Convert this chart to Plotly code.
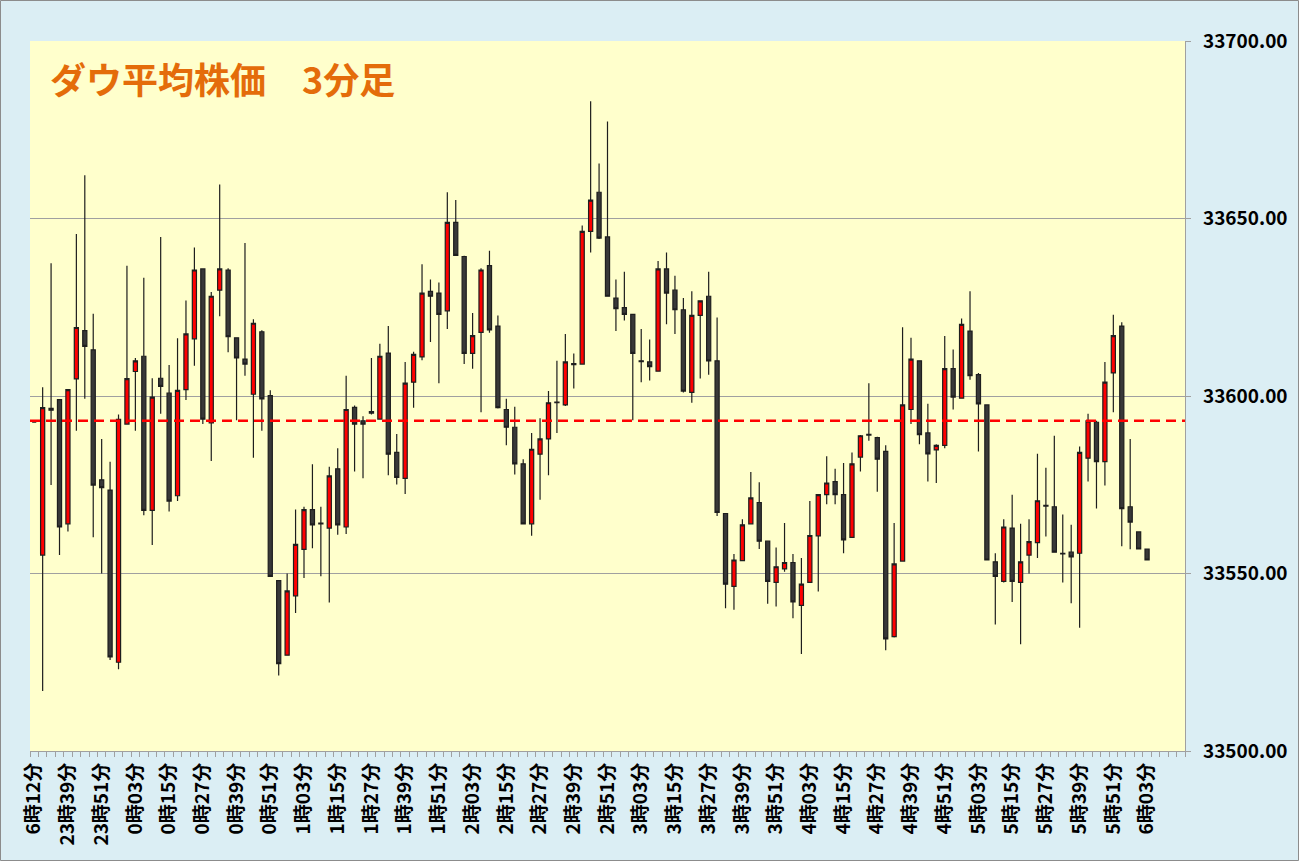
import plotly.graph_objects as go

# ---- data -------------------------------------------------------------
times = (
    ["6時12分"]
    + ["23時30分", "23時33分", "23時36分", "23時39分", "23時42分", "23時45分", "23時48分", "23時51分", "23時54分", "23時57分"]
    + ["0時00分", "0時03分", "0時06分", "0時09分", "0時12分", "0時15分", "0時18分", "0時21分", "0時24分", "0時27分",
       "0時30分", "0時33分", "0時36分", "0時39分", "0時42分", "0時45分", "0時48分", "0時51分", "0時54分", "0時57分"]
    + ["1時00分", "1時03分", "1時06分", "1時09分", "1時12分", "1時15分", "1時18分", "1時21分", "1時24分", "1時27分",
       "1時30分", "1時33分", "1時36分", "1時39分", "1時42分", "1時45分", "1時48分", "1時51分", "1時54分", "1時57分"]
    + ["2時00分", "2時03分", "2時06分", "2時09分", "2時12分", "2時15分", "2時18分", "2時21分", "2時24分", "2時27分",
       "2時30分", "2時33分", "2時36分", "2時39分", "2時42分", "2時45分", "2時48分", "2時51分", "2時54分", "2時57分"]
    + ["3時00分", "3時03分", "3時06分", "3時09分", "3時12分", "3時15分", "3時18分", "3時21分", "3時24分", "3時27分",
       "3時30分", "3時33分", "3時36分", "3時39分", "3時42分", "3時45分", "3時48分", "3時51分", "3時54分", "3時57分"]
    + ["4時00分", "4時03分", "4時06分", "4時09分", "4時12分", "4時15分", "4時18分", "4時21分", "4時24分", "4時27分",
       "4時30分", "4時33分", "4時36分", "4時39分", "4時42分", "4時45分", "4時48分", "4時51分", "4時54分", "4時57分"]
    + ["5時00分", "5時03分", "5時06分", "5時09分", "5時12分", "5時15分", "5時18分", "5時21分", "5時24分", "5時27分",
       "5時30分", "5時33分", "5時36分", "5時39分", "5時42分", "5時45分", "5時48分", "5時51分", "5時54分", "5時57分"]
    + ["6時00分", "6時03分"]
)

open_ = [
    33592.6, 33555.2, 33596.5, 33599.0, 33564.0, 33604.8, 33618.4, 33613.0, 33576.4, 33573.5,
    33525.0, 33592.1, 33606.9, 33611.2, 33567.8, 33605.0, 33600.8, 33571.9, 33601.8, 33616.1,
    33635.8, 33592.4, 33629.8, 33635.5, 33616.4, 33610.4, 33600.5, 33618.1, 33600.1, 33548.0,
    33527.0, 33543.7, 33556.8, 33568.0, 33564.2, 33562.8, 33579.5, 33563.1, 33596.8, 33593.0,
    33595.6, 33593.5, 33612.1, 33584.1, 33576.8, 33603.9, 33611.0, 33629.5, 33629.0, 33624.0,
    33648.9, 33639.3, 33612.0, 33617.9, 33636.7, 33619.7, 33596.2, 33591.2, 33580.9, 33564.0,
    33583.6, 33587.9, 33598.3, 33597.5, 33609.1, 33609.0, 33646.4, 33657.4, 33644.8, 33627.6,
    33624.9, 33623.0, 33609.9, 33609.6, 33607.0, 33635.8, 33629.8, 33624.3, 33601.0, 33622.7,
    33628.1, 33609.9, 33566.9, 33546.4, 33553.6, 33564.0, 33570.0, 33559.1, 33547.5, 33551.3,
    33553.1, 33541.0, 33547.5, 33560.6, 33572.2, 33575.9, 33572.2, 33560.2, 33582.8, 33589.2,
    33588.3, 33584.4, 33532.2, 33553.5, 33596.2, 33609.9, 33589.6, 33584.8, 33586.1, 33607.7,
    33599.4, 33618.3, 33606.0, 33597.5, 33553.3, 33547.8, 33562.8, 33547.5, 33555.2, 33558.7,
    33569.2, 33568.8, 33555.7, 33556.0, 33555.7, 33582.5, 33592.6, 33581.5, 33606.5, 33619.7,
    33568.8, 33561.7, 33556.9,
]
high = [
    33592.6, 33602.5, 33637.4, 33599.0, 33602.0, 33645.6, 33662.2, 33623.2, 33587.9, 33581.5,
    33594.8, 33636.7, 33610.7, 33633.3, 33605.0, 33644.8, 33608.7, 33616.3, 33626.9, 33641.8,
    33636.0, 33629.3, 33659.6, 33636.0, 33616.5, 33643.1, 33621.6, 33618.5, 33601.6, 33548.2,
    33550.0, 33568.0, 33568.8, 33580.8, 33568.8, 33580.1, 33585.3, 33605.7, 33597.3, 33594.3,
    33610.7, 33614.7, 33619.7, 33589.3, 33609.6, 33612.5, 33637.1, 33632.8, 33632.0, 33657.4,
    33655.2, 33639.5, 33623.4, 33636.0, 33640.9, 33622.7, 33599.2, 33597.0, 33582.2, 33589.6,
    33593.7, 33601.4, 33609.9, 33617.5, 33612.0, 33648.0, 33683.0, 33665.5, 33677.3, 33632.8,
    33635.0, 33623.0, 33618.9, 33615.9, 33638.0, 33640.4, 33633.9, 33627.6, 33629.5, 33627.0,
    33635.0, 33622.1, 33567.0, 33555.5, 33565.3, 33578.6, 33575.7, 33559.2, 33557.3, 33564.2,
    33555.5, 33554.4, 33570.4, 33572.3, 33583.0, 33579.5, 33581.1, 33584.1, 33589.0, 33603.6,
    33588.5, 33586.1, 33564.2, 33619.4, 33616.4, 33610.0, 33597.8, 33586.4, 33616.9, 33613.1,
    33621.8, 33629.5, 33606.5, 33597.6, 33555.7, 33565.3, 33572.2, 33564.0, 33565.3, 33583.7,
    33579.8, 33588.8, 33566.6, 33563.7, 33585.8, 33595.0, 33593.0, 33609.6, 33622.9, 33620.8,
    33587.9, 33561.7, 33556.9,
]
low = [
    33592.6, 33516.9, 33574.9, 33555.2, 33561.8, 33590.2, 33599.2, 33560.2, 33550.0, 33525.6,
    33523.0, 33592.0, 33590.2, 33566.4, 33558.0, 33595.0, 33567.5, 33570.4, 33598.9, 33608.5,
    33592.1, 33581.7, 33622.5, 33612.3, 33593.2, 33605.7, 33582.6, 33590.2, 33549.0, 33521.3,
    33526.8, 33538.9, 33548.7, 33557.1, 33549.2, 33541.8, 33560.9, 33561.1, 33578.7, 33576.8,
    33594.8, 33593.3, 33577.7, 33575.1, 33572.4, 33596.7, 33610.1, 33615.2, 33603.6, 33618.9,
    33639.5, 33609.0, 33607.7, 33595.4, 33617.8, 33596.5, 33586.1, 33577.9, 33564.0, 33560.6,
    33570.8, 33577.7, 33589.6, 33597.2, 33602.1, 33609.0, 33640.4, 33644.2, 33628.0, 33618.3,
    33621.3, 33593.2, 33603.9, 33604.4, 33607.0, 33620.2, 33617.5, 33601.0, 33598.1, 33604.9,
    33606.0, 33566.2, 33540.2, 33539.8, 33553.5, 33564.0, 33556.9, 33541.5, 33540.7, 33550.5,
    33537.4, 33527.3, 33547.5, 33544.9, 33569.5, 33569.5, 33555.7, 33560.0, 33578.7, 33587.4,
    33573.0, 33528.4, 33532.0, 33553.5, 33592.1, 33586.4, 33575.9, 33575.5, 33585.3, 33596.2,
    33599.4, 33604.6, 33584.4, 33553.7, 33535.6, 33547.5, 33542.0, 33530.1, 33550.0, 33554.4,
    33560.4, 33556.0, 33547.5, 33541.6, 33534.7, 33575.9, 33568.3, 33574.8, 33595.4, 33557.7,
    33556.8, 33556.9, 33553.8,
]
close = [
    33592.6, 33596.7, 33596.0, 33563.1, 33601.8, 33619.3, 33614.0, 33574.9, 33574.2, 33526.5,
    33593.4, 33604.9, 33609.9, 33567.8, 33599.7, 33602.7, 33570.4, 33601.6, 33617.5, 33635.5,
    33593.5, 33628.1, 33635.8, 33616.7, 33610.7, 33609.0, 33620.5, 33599.2, 33549.2, 33524.6,
    33545.1, 33558.2, 33568.0, 33563.7, 33564.0, 33577.5, 33563.7, 33596.2, 33592.1, 33592.1,
    33595.2, 33611.2, 33583.6, 33577.1, 33603.6, 33611.7, 33629.0, 33628.1, 33623.0, 33648.9,
    33639.6, 33612.0, 33617.0, 33635.5, 33618.6, 33596.7, 33591.2, 33580.9, 33564.0, 33585.0,
    33587.9, 33598.1, 33598.1, 33609.6, 33608.8, 33646.4, 33655.2, 33644.5, 33628.1, 33624.6,
    33623.0, 33612.0, 33609.7, 33608.3, 33635.8, 33629.0, 33624.3, 33601.4, 33622.7, 33626.8,
    33609.9, 33567.2, 33547.0, 33553.8, 33563.7, 33571.3, 33559.1, 33547.8, 33551.9, 33553.1,
    33542.0, 33547.0, 33560.7, 33572.2, 33575.5, 33572.2, 33559.5, 33580.9, 33588.8, 33589.0,
    33582.2, 33531.6, 33552.7, 33597.5, 33610.4, 33589.1, 33583.7, 33586.1, 33607.7, 33599.7,
    33620.2, 33605.7, 33597.8, 33553.8, 33549.2, 33563.1, 33547.8, 33553.3, 33559.0, 33570.5,
    33569.0, 33556.0, 33555.5, 33554.7, 33584.1, 33593.0, 33581.5, 33603.9, 33617.0, 33568.3,
    33564.5, 33556.9, 33553.8,
]

prev_close = 33593.0
title_text = "ダウ平均株価　3分足"
n_slots = 137          # axis slots (data + empty room to the right)
label_every = 4

# ---- figure -----------------------------------------------------------
xpos = list(range(len(times)))
tick_idx = xpos[::label_every]
tick_txt = [times[i] for i in tick_idx]

fig = go.Figure()
fig.add_trace(go.Candlestick(
    x=xpos, open=open_, high=high, low=low, close=close,
    text=times, hoverinfo="text+y",
    increasing=dict(fillcolor="#FF0000", line=dict(color="#1E1E1E", width=1.2)),
    decreasing=dict(fillcolor="#383838", line=dict(color="#1E1E1E", width=1.2)),
    whiskerwidth=0,
    showlegend=False,
))

fig.add_shape(type="line", xref="paper", x0=0, x1=1, yref="y", y0=prev_close, y1=prev_close,
              line=dict(color="#FF0000", width=2.5, dash="10px,6px"))

# outer chart border
fig.add_shape(type="rect", xref="paper", yref="paper",
              x0=-29.5 / 1155, x1=(1298.5 - 30) / 1155, y0=(751 - 860.5) / 710, y1=(751 - 0.5) / 710,
              line=dict(color="#8C8C8C", width=1), fillcolor="rgba(0,0,0,0)", layer="below")

fig.add_annotation(text=title_text, xref="paper", yref="paper", x=18 / 1155, y=(751 - 78) / 710,
                   xanchor="left", yanchor="middle", showarrow=False,
                   font=dict(family="Noto Sans CJK JP", size=36, color="#E46C0A", weight="bold"))

fig.update_layout(
    width=1299, height=861,
    margin=dict(l=30, r=114, t=41, b=110),
    paper_bgcolor="#DBEEF4",
    plot_bgcolor="#FFFFCC",
    font=dict(family="Noto Sans CJK JP", color="#000000"),
    showlegend=False,
    xaxis=dict(
        range=[-0.5, n_slots - 0.5],
        rangeslider=dict(visible=False),
        tickmode="array", tickvals=tick_idx, ticktext=tick_txt,
        tickangle=-90, ticks="", showgrid=False, zeroline=False,
        showline=True, linecolor="#A0A0A0", linewidth=1.3,
        tickfont=dict(size=19, weight="bold"),
        ticklabelstandoff=3,
        minor=dict(tick0=-0.5, dtick=1, ticks="outside", ticklen=5, tickcolor="#A0A0A0", showgrid=False),
    ),
    yaxis=dict(
        side="right", range=[33500, 33700], dtick=50, tickformat=".2f",
        showgrid=True, gridcolor="#A0A0A0", gridwidth=1.3, zeroline=False,
        showline=True, linecolor="#A0A0A0", linewidth=1.3,
        ticks="outside", ticklen=5, tickcolor="#A0A0A0",
        tickfont=dict(size=19, weight="bold"),
        ticklabelstandoff=8,
    ),
)

fig.write_html("out.html", config={"displayModeBar": False},
               post_script="document.body.style.margin='0';document.body.style.overflow='hidden';")
